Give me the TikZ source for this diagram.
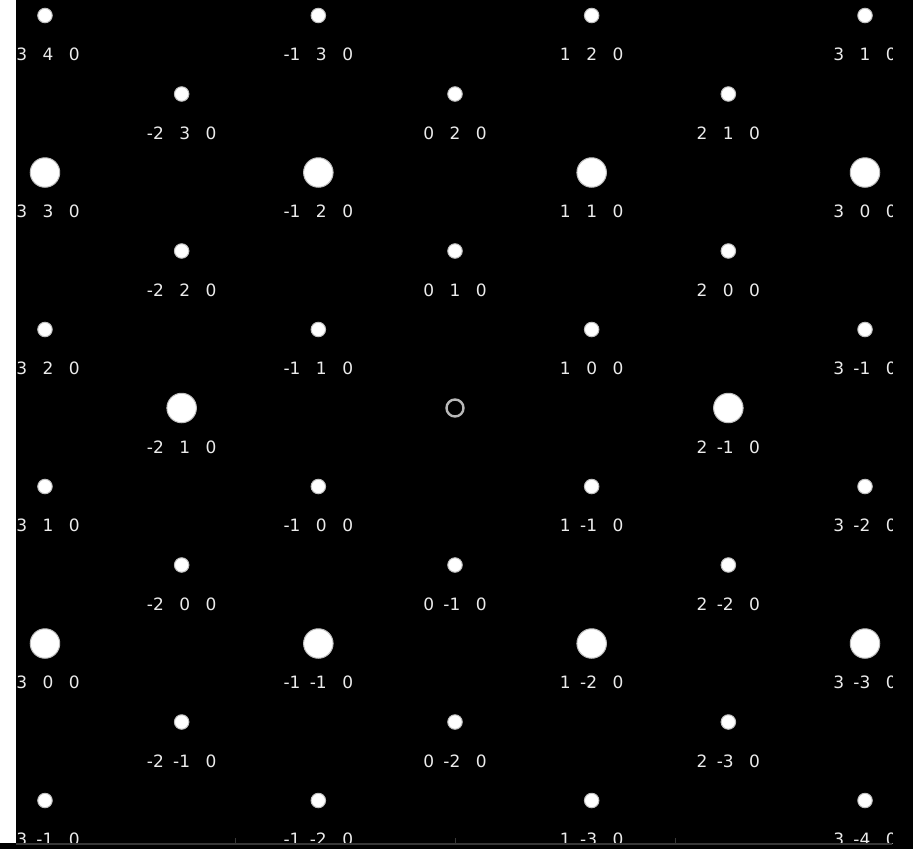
\documentclass[tikz,border=0pt]{standalone}
\usepackage{fontspec}
\setmainfont{DejaVu Sans}
\begin{document}
\begin{tikzpicture}[x=1pt,y=-1pt,
  spotsmall/.style={circle,fill=white,draw=white!75!black,line width=1pt,minimum size=14.5pt,inner sep=0pt},
  spotbig/.style={circle,fill=white,draw=white!75!black,line width=1pt,minimum size=29.5pt,inner sep=0pt},
  centring/.style={circle,draw=white!72!black,line width=2.4pt,minimum size=17pt,inner sep=0pt},
  lbl/.style={anchor=base,inner sep=0pt,text=white!92!black,font=\fontsize{17}{20}\selectfont}]
\useasboundingbox (0,0) rectangle (913,849);
\fill[black] (0,0) rectangle (913,849);
\fill[white] (0,0) rectangle (16,843);
\begin{scope}
\clip (16,0) rectangle (892,843);
\foreach \h in {-3,...,3}{
  \foreach \k in {-4,...,4}{
    \pgfmathsetmacro\px{455+136.67*\h}
    \pgfmathsetmacro\py{408-157*\k-78.5*\h}
    \pgfmathtruncatemacro\inside{(\py>0)&&(\py<843)}
    \pgfmathtruncatemacro\isbig{mod(\h-\k+30,3)==0}
    \pgfmathtruncatemacro\iszero{(\h==0)&&(\k==0)}
    \pgfmathtruncatemacro\hi{\h+5}
    \pgfmathtruncatemacro\ki{\k+5}
    \ifnum\inside=1
      \ifnum\iszero=1
        \node[centring] (origin) at (\px,\py) {};
      \else
        \ifnum\isbig=1
          \node[spotbig] (s\hi\ki) at (\px,\py) {};
        \else
          \node[spotsmall] (s\hi\ki) at (\px,\py) {};
        \fi
        \node[lbl] (t\hi\ki) at (\px,{\py+45}) {\h\makebox[26.3pt][r]{\k}\makebox[26.3pt][r]{0}};
      \fi
    \fi
  }
}
\end{scope}
\draw[white!22!black,line width=2pt] (16,844) -- (892,844);
\foreach \tx/\tn in {235/a,455/b,675/c}{
  \coordinate (tk\tn) at (\tx,838);
  \draw[white!22!black,line width=1pt] (tk\tn) -- (\tx,843);
}
\end{tikzpicture}
\end{document}
